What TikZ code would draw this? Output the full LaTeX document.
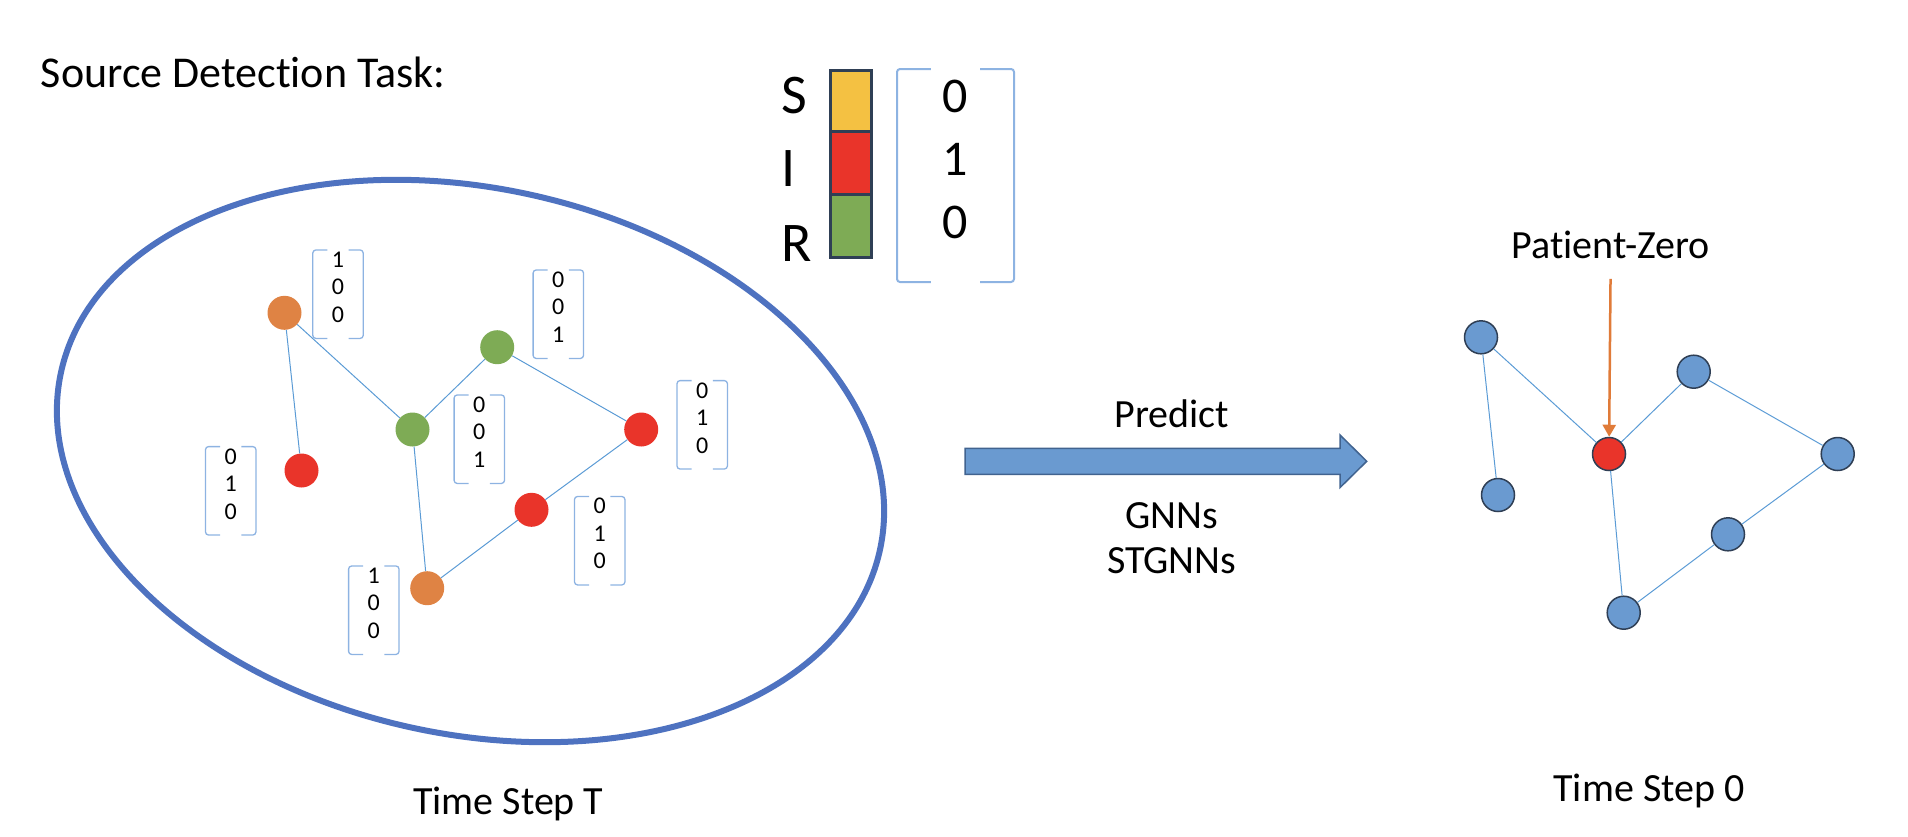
\documentclass[tikz,border=0pt]{standalone}
\usepackage{fontspec}
\setmainfont{Carlito}[Ligatures=NoCommon]
\usepackage{tikz}
\usetikzlibrary{shapes, arrows.meta, calc, positioning}

\definecolor{ringblue}{HTML}{4E72C0}
\definecolor{edgeblue}{HTML}{5B9BD5}
\definecolor{nodeblue}{HTML}{6A9AD0}
\definecolor{navy}{HTML}{2F3F55}
\definecolor{arrowline}{HTML}{41638F}
\definecolor{sorange}{HTML}{DF8344}
\definecolor{pzorange}{HTML}{E07B39}
\definecolor{igred}{HTML}{E9342A}
\definecolor{rgreen}{HTML}{7EAB55}
\definecolor{syellow}{HTML}{F4C142}
\definecolor{vecblue}{HTML}{8DB3E2}

\newcommand{\statevec}[6][]{%
  \node[vec, #1] (#2) at (#3) {#4\\#5\\#6};
  \draw[bracket, #1] ($(#2.north west)!0.29!(#2.north east)$) -- (#2.north west) -- (#2.south west) -- ($(#2.south west)!0.29!(#2.south east)$);
  \draw[bracket, #1] ($(#2.north east)!0.29!(#2.north west)$) -- (#2.north east) -- (#2.south east) -- ($(#2.south east)!0.29!(#2.south west)$);
}

\begin{document}
\begin{tikzpicture}[x=1pt, y=-1pt,
    every node/.style={inner sep=0pt},
    lbl/.style={font=\fontsize{40}{48}\selectfont},
    sirletter/.style={anchor=base west, font=\fontsize{56}{68}\selectfont},
    agent/.style={circle, minimum size=34pt},
    patient/.style={circle, minimum size=33pt, draw=navy, line width=1.5pt},
    link/.style={edgeblue, line width=1pt},
    vec/.style={minimum width=50pt, minimum height=88pt, align=center, text depth=14pt,
        font=\fontsize{24}{27.5}\selectfont},
    bracket/.style={vecblue, line width=1.3pt, rounded corners=3pt},
    bigvec/.style={minimum width=115pt, minimum height=211pt, text depth=32pt,
        font=\fontsize{50}{63}\selectfont, line width=2pt},
    pzarrow/.style={pzorange, line width=2.5pt, -{Triangle[width=13pt,length=12pt]}}]
\useasboundingbox (0,0) rectangle (1908,836);

\node[anchor=base west, font=\fontsize{44}{52}\selectfont] (title) at (40.7,87) {Source Detection Task:};

% state legend
\node[sirletter] (s) at (781,113) {S};
\node[sirletter] (i) at (781,186) {I};
\node[sirletter] (r) at (781,261) {R};
\draw[navy, line width=3pt, fill=syellow] (830,70) rectangle (871.7,131.7);
\draw[navy, line width=3pt, fill=igred] (830,131.7) rectangle (871.7,194.7);
\draw[navy, line width=3pt, fill=rgreen] (830,194.7) rectangle (871.7,257.7);
\statevec[bigvec]{sirvec}{955.5,175.5}{0}{1}{0}

% time step T
\draw[ringblue, line width=6pt, shift={(470.5,461)}, rotate=-12.2] (0,0) ellipse [x radius=419pt, y radius=273pt];
\node[agent, fill=sorange] (t1) at (284.5,312.8) {};
\node[agent, fill=igred] (t2) at (301.5,470.5) {};
\node[agent, fill=rgreen] (t3) at (412.5,429.5) {};
\node[agent, fill=rgreen] (t4) at (497.2,347.2) {};
\node[agent, fill=igred] (t5) at (641.2,429.5) {};
\node[agent, fill=igred] (t6) at (531.5,509.8) {};
\node[agent, fill=sorange] (t7) at (427.2,588.2) {};
\draw[link] (t1) -- (t2);
\draw[link] (t1) -- (t3);
\draw[link] (t3) -- (t4);
\draw[link] (t4) -- (t5);
\draw[link] (t5) -- (t6);
\draw[link] (t6) -- (t7);
\draw[link] (t3) -- (t7);
\statevec{v1}{338,294.2}{1}{0}{0}
\statevec{v2}{230.7,490.8}{0}{1}{0}
\statevec{v3}{479.3,439.2}{0}{0}{1}
\statevec{v4}{558.3,314.2}{0}{0}{1}
\statevec{v5}{702.2,424.8}{0}{1}{0}
\statevec{v6}{599.7,540.7}{0}{1}{0}
\statevec{v7}{373.8,610.2}{1}{0}{0}
\node[lbl, anchor=base] (stepT) at (508.3,814) {Time Step T};

% prediction
\draw[draw=arrowline, fill=nodeblue, line width=1.5pt] (965,448.3) -- (1340,448.3) -- (1340,435) -- (1366.7,461.3) -- (1340,487.6) -- (1340,474.3) -- (965,474.3) -- cycle;
\node[lbl, anchor=base] (predict) at (1171.7,427) {Predict};
\node[lbl, anchor=base] (gnns) at (1171.7,528) {GNNs};
\node[lbl, anchor=base] (stgnns) at ($(gnns.base)+(0,45)$) {STGNNs};

% time step 0
\node[patient, fill=nodeblue] (z1) at (1481,337.3) {};
\node[patient, fill=nodeblue] (z2) at (1498,495) {};
\node[patient, fill=igred] (z3) at (1609,454) {};
\node[patient, fill=nodeblue] (z4) at (1693.7,371.7) {};
\node[patient, fill=nodeblue] (z5) at (1837.7,454) {};
\node[patient, fill=nodeblue] (z6) at (1728,534.3) {};
\node[patient, fill=nodeblue] (z7) at (1623.7,612.7) {};
\draw[link] (z1) -- (z2);
\draw[link] (z1) -- (z3);
\draw[link] (z3) -- (z4);
\draw[link] (z4) -- (z5);
\draw[link] (z5) -- (z6);
\draw[link] (z6) -- (z7);
\draw[link] (z3) -- (z7);
\node[lbl, anchor=base] (pz) at (1610.7,258.3) {Patient-Zero};
\draw[pzarrow, shorten <=20pt] (pz.south) -- (z3);
\node[lbl, anchor=base] (step0) at (1649,801.7) {Time Step 0};
\end{tikzpicture}
\end{document}
